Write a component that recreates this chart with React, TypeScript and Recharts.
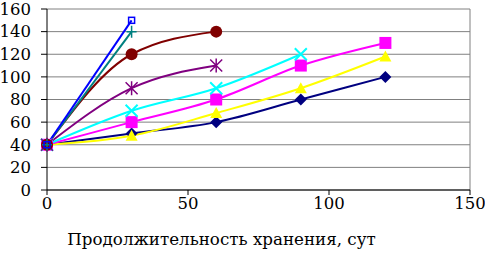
import { CartesianGrid, Line, LineChart, ReferenceLine, XAxis, YAxis } from 'recharts';

const xDays = [0, 30, 60, 90, 120];
const navyVals = [40, 50, 60, 80, 100];
const yellowVals = [40, 48, 68, 90, 118];
const magentaVals = [40, 60, 80, 110, 130];
const cyanVals = [40, 70, 90, 120];
const purpleVals = [40, 90, 110];
const brownVals = [40, 120, 140];
const tealVals = [40, 140];
const blueVals = [40, 150];
const yTicks = [0, 20, 40, 60, 80, 100, 120, 140, 160];
const xTicks = [0, 50, 100, 150];
const xTitle = 'Продолжительность хранения, сут';

const font = 'DejaVu Serif';

const toPoints = (vals: number[]) => vals.map((v, i) => ({ x: xDays[i], y: v }));

type DotProps = { cx?: number; cy?: number; index?: number };

const diamond = (p: DotProps) => (
  <path key={p.index} d={`M${p.cx},${p.cy! - 6}L${p.cx! + 6},${p.cy}L${p.cx},${p.cy! + 6}L${p.cx! - 6},${p.cy}Z`} fill="#000080" />
);
const triangle = (p: DotProps) => (
  <path key={p.index} d={`M${p.cx},${p.cy! - 6}L${p.cx! + 6},${p.cy! + 5}L${p.cx! - 6},${p.cy! + 5}Z`} fill="#ffff00" />
);
const square = (p: DotProps) => (
  <rect key={p.index} x={p.cx! - 6} y={p.cy! - 6} width={12} height={12} fill="#ff00ff" />
);
const cross = (p: DotProps) => (
  <path key={p.index} d={`M${p.cx! - 6},${p.cy! - 6}L${p.cx! + 6},${p.cy! + 6}M${p.cx! + 6},${p.cy! - 6}L${p.cx! - 6},${p.cy! + 6}`} stroke="#00ffff" strokeWidth={2} />
);
const star = (p: DotProps) => (
  <path
    key={p.index}
    d={`M${p.cx! - 6},${p.cy! - 6}L${p.cx! + 6},${p.cy! + 6}M${p.cx! + 6},${p.cy! - 6}L${p.cx! - 6},${p.cy! + 6}M${p.cx},${p.cy! - 7}L${p.cx},${p.cy! + 7}`}
    stroke="#800080"
    strokeWidth={1.5}
  />
);
const circle = (p: DotProps) => <circle key={p.index} cx={p.cx} cy={p.cy} r={6} fill="#800000" />;
const plus = (p: DotProps) => (
  <path key={p.index} d={`M${p.cx! - 5},${p.cy}L${p.cx! + 5},${p.cy}M${p.cx},${p.cy! - 6}L${p.cx},${p.cy! + 6}`} stroke="#008080" strokeWidth={1.5} />
);
const openSquare = (p: DotProps) => (
  <rect key={p.index} x={p.cx! - 3} y={p.cy! - 3} width={6} height={6} fill="none" stroke="#0000ff" strokeWidth={1.5} />
);

const series = [
  { name: 'navy', vals: navyVals, color: '#000080', dot: diamond },
  { name: 'yellow', vals: yellowVals, color: '#ffff00', dot: triangle },
  { name: 'magenta', vals: magentaVals, color: '#ff00ff', dot: square },
  { name: 'cyan', vals: cyanVals, color: '#00ffff', dot: cross },
  { name: 'purple', vals: purpleVals, color: '#800080', dot: star },
  { name: 'brown', vals: brownVals, color: '#800000', dot: circle },
  { name: 'teal', vals: tealVals, color: '#008080', dot: plus },
  { name: 'blue', vals: blueVals, color: '#0000ff', dot: openSquare },
];

export default function App() {
  return (
    <div style={{ width: 485, height: 257, background: '#fff' }}>
      <style>{'body{margin:0}'}</style>
      <LineChart width={485} height={257} margin={{ top: 9, right: 15, bottom: 0, left: 0 }}>
        <CartesianGrid vertical={false} stroke="#808080" />
        <XAxis
          type="number"
          dataKey="x"
          domain={[0, 150]}
          ticks={xTicks}
          allowDuplicatedCategory={false}
          height={67}
          stroke="#000"
          tickSize={5}
          tick={{ fill: '#000', fontSize: 16.5, fontFamily: font }}
          label={{ value: xTitle, position: 'insideBottom', offset: 12, dx: -37, fill: '#000', fontSize: 16.7, fontFamily: font }}
        />
        <YAxis
          type="number"
          dataKey="y"
          domain={[0, 160]}
          ticks={yTicks}
          width={47}
          stroke="#000"
          tickSize={6}
          tickMargin={10}
          interval={0}
          tick={{ fill: '#000', fontSize: 16.5, fontFamily: font }}
        />
        <ReferenceLine x={150} stroke="#808080" />
        {series.map((s) => (
          <Line
            key={s.name}
            data={toPoints(s.vals)}
            dataKey="y"
            type="monotone"
            stroke={s.color}
            strokeWidth={2}
            dot={s.dot}
            activeDot={false}
            isAnimationActive={false}
          />
        ))}
      </LineChart>
    </div>
  );
}
